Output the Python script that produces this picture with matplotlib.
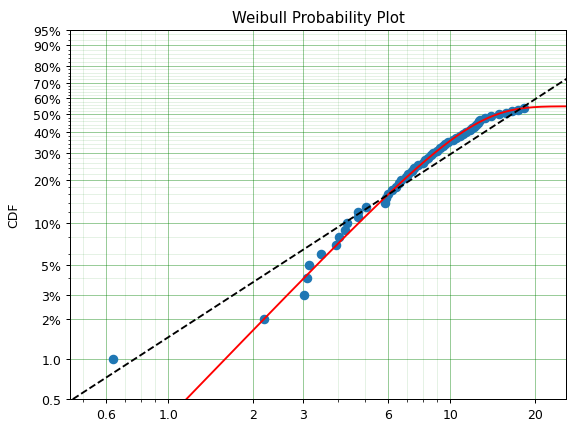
import numpy as np
import matplotlib
matplotlib.use("Agg")
import matplotlib.pyplot as plt
from matplotlib.ticker import FixedLocator, FixedFormatter

# ---- data ----
fail_x = [0.635, 2.19, 3.03, 3.10, 3.14, 3.48, 3.92, 4.03, 4.23, 4.31,
          4.69, 4.71, 5.02, 5.88, 5.93, 6.00, 6.20, 6.40, 6.55, 6.70,
          6.95, 7.10, 7.30, 7.45, 7.70, 8.00, 8.10, 8.35, 8.55, 8.70,
          9.00, 9.20, 9.40, 9.60, 9.80, 10.2, 10.5, 10.8, 11.1, 11.4,
          11.7, 11.9, 12.1, 12.3, 12.5, 12.6, 12.75, 13.3, 13.9, 14.9,
          15.8, 16.6, 17.4, 18.3]
cdf_y = [i / 100 for i in range(1, len(fail_x) + 1)]

# fitted models
defective_p, defective_alpha, defective_beta = 0.55, 9.8, 2.2
weib_alpha, weib_beta = 21.5, 1.377

y_ticks = [0.005, 0.01, 0.02, 0.03, 0.05, 0.1, 0.2, 0.3, 0.4, 0.5,
           0.6, 0.7, 0.8, 0.9, 0.95]
y_tick_labels = ["0.5", "1.0", "2%", "3%", "5%", "10%", "20%", "30%", "40%",
                 "50%", "60%", "70%", "80%", "90%", "95%"]
x_ticks = [0.6, 1.0, 2, 3, 6, 10, 20]
x_tick_labels = ["0.6", "1.0", "2", "3", "6", "10", "20"]


def fwd(F):
    F = np.asarray(F, dtype=float)
    with np.errstate(all="ignore"):
        return np.log(-np.log(1 - F))


def inv(g):
    g = np.asarray(g, dtype=float)
    with np.errstate(all="ignore"):
        return 1 - np.exp(-np.exp(g))


fig = plt.figure(figsize=(6.4, 4.822), dpi=90)
ax = fig.add_axes([70 / 576, 1 - 400 / 434, 496 / 576, 369 / 434])
ax.set_xscale("log")
ax.set_yscale("function", functions=(fwd, inv))

xs = np.logspace(np.log10(0.4), np.log10(30), 400)
ax.scatter(fail_x, cdf_y, color="C0", s=44, zorder=2)
F_def = defective_p * (1 - np.exp(-(xs / defective_alpha) ** defective_beta))
ax.plot(xs, F_def, color="red", zorder=3)
F_w = 1 - np.exp(-(xs / weib_alpha) ** weib_beta)
ax.plot(xs, F_w, color="k", linestyle="--", zorder=4)

ax.set_xlim(0.448, 25.7)
ax.set_ylim(0.005, 0.95)

ax.yaxis.set_major_locator(FixedLocator(y_ticks))
ax.yaxis.set_major_formatter(FixedFormatter(y_tick_labels))
ax.yaxis.set_minor_locator(FixedLocator(np.arange(0.02, 0.95, 0.02)))
ax.xaxis.set_major_locator(FixedLocator(x_ticks))
ax.xaxis.set_major_formatter(FixedFormatter(x_tick_labels))
ax.xaxis.set_minor_locator(FixedLocator([0.5, 0.7, 0.8, 0.9, 4, 5, 7, 8, 9, 30]))
ax.xaxis.set_minor_formatter(FixedFormatter([""] * 10))
ax.yaxis.set_minor_formatter(FixedFormatter([""] * 60))

ax.grid(True, which="major", color="g", alpha=0.4, linestyle="-")
ax.grid(True, which="minor", color="g", alpha=0.1, linestyle="-")
ax.set_axisbelow(True)

ax.set_title("Weibull Probability Plot")
ax.set_ylabel("CDF", labelpad=10)

fig.savefig("out.png", dpi=90)
